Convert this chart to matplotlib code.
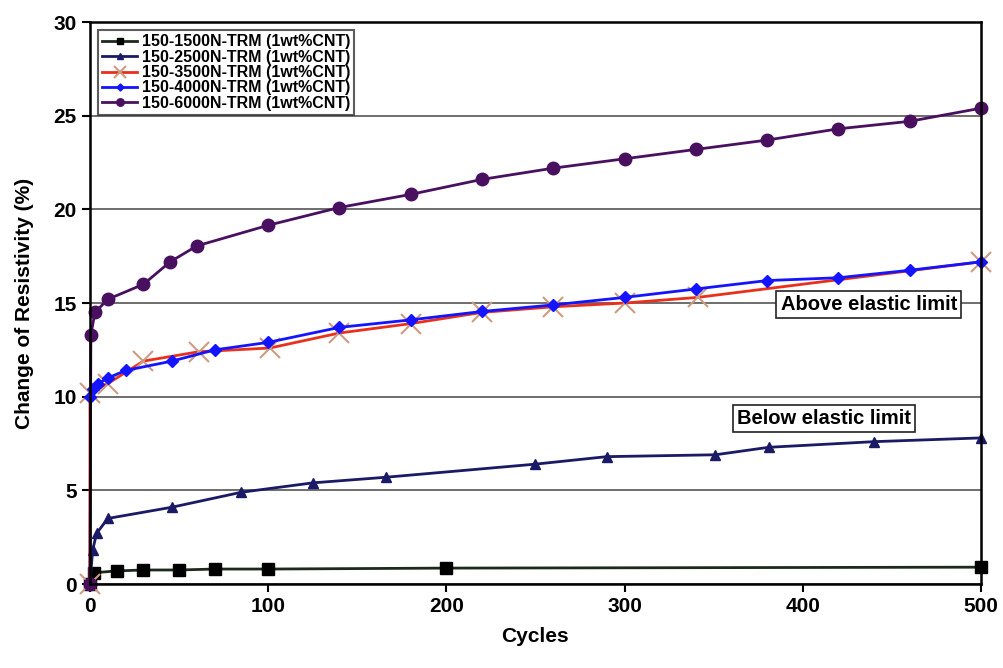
import numpy as np
import matplotlib.pyplot as plt

# Data
cyc_1500 = [0, 2, 15, 30, 50, 70, 100, 200, 500]
res_1500 = [0.0, 0.6, 0.7, 0.75, 0.75, 0.8, 0.8, 0.85, 0.9]

cyc_2500 = [0, 1.5, 3.7, 10, 46, 85, 125, 166, 250, 290, 351, 381, 440, 500]
res_2500 = [0.0, 1.8, 2.7, 3.5, 4.1, 4.9, 5.4, 5.7, 6.4, 6.8, 6.9, 7.3, 7.6, 7.8]

cyc_3500 = [0, 0, 10, 30, 61, 101, 140, 180, 220, 260, 300, 341, 500]
res_3500 = [0.0, 10.2, 10.7, 11.9, 12.4, 12.6, 13.4, 13.9, 14.5, 14.8, 15.0, 15.3, 17.2]

cyc_4000 = [0, 1.7, 4.5, 10, 20, 46, 70, 100, 140, 180, 220, 260, 300, 340, 380, 420, 460, 500]
res_4000 = [10.0, 10.4, 10.7, 11.0, 11.4, 11.9, 12.5, 12.9, 13.7, 14.1, 14.55, 14.9,
            15.3, 15.75, 16.2, 16.35, 16.75, 17.2]

cyc_6000 = [0, 0.5, 2.8, 10, 30, 45, 60, 100, 140, 180, 220, 260, 300, 340, 380, 420, 460, 500]
res_6000 = [0.0, 13.3, 14.5, 15.2, 16.0, 17.2, 18.05, 19.15, 20.1, 20.8, 21.6, 22.2,
            22.7, 23.2, 23.7, 24.3, 24.7, 25.4]

labels = ['150-1500N-TRM (1wt%CNT)', '150-2500N-TRM (1wt%CNT)', '150-3500N-TRM (1wt%CNT)',
          '150-4000N-TRM (1wt%CNT)', '150-6000N-TRM (1wt%CNT)']

plt.rcParams['font.family'] = ['Liberation Sans', 'DejaVu Sans']
plt.rcParams['font.weight'] = 'bold'

fig = plt.figure(figsize=(10.04, 6.68), dpi=100)
ax = fig.add_axes([0.0896, 0.1257, 0.8874, 0.8413])

ax.plot(cyc_1500, res_1500, color='#1c2a1c', marker='s', ms=8, mfc='black', mec='black', lw=2,
        label=labels[0], clip_on=False)
ax.plot(cyc_2500, res_2500, color='#1a1a66', marker='^', ms=7, lw=2, label=labels[1], clip_on=False)
ax.plot(cyc_3500, res_3500, color='#e8301c', marker='x', ms=14, mew=1.5, mec='#d09a80', lw=2,
        label=labels[2], clip_on=False)
ax.plot(cyc_4000, res_4000, color='#1414ff', marker='D', ms=6, lw=2, label=labels[3], clip_on=False)
ax.plot(cyc_6000, res_6000, color='#4a1060', marker='o', ms=9, lw=2, label=labels[4], clip_on=False)

ax.set_xlim(0, 500)
ax.set_ylim(0, 30)
ax.set_xticks(np.arange(0, 501, 100))
ax.set_yticks(np.arange(0, 31, 5))
ax.yaxis.grid(True, color='#555555', lw=1.2)
ax.set_axisbelow(True)
for s in ax.spines.values():
    s.set_linewidth(1.8)
ax.tick_params(labelsize=15, width=1.5, length=6)
ax.set_xlabel('Cycles', fontsize=15, fontweight='bold', labelpad=8)
ax.set_ylabel('Change of Resistivity (%)', fontsize=15, fontweight='bold', labelpad=14)

leg = ax.legend(loc='upper left', bbox_to_anchor=(0.009, 0.985), fontsize=11.5, frameon=True,
                fancybox=False, edgecolor='#333333', handlelength=2.2, borderpad=0.25,
                labelspacing=0.02, markerscale=0.6, borderaxespad=0, handletextpad=0.3)
leg.get_frame().set_linewidth(1.5)

box = dict(boxstyle='square,pad=0.2', fc='white', ec='#222222', lw=1.2)
ax.text(437, 14.9, 'Above elastic limit', ha='center', va='center', fontsize=14.5,
        fontweight='bold', bbox=box)
ax.text(412, 8.86, 'Below elastic limit', ha='center', va='center', fontsize=14.5,
        fontweight='bold', bbox=box)

fig.savefig('out.png', dpi=100)
